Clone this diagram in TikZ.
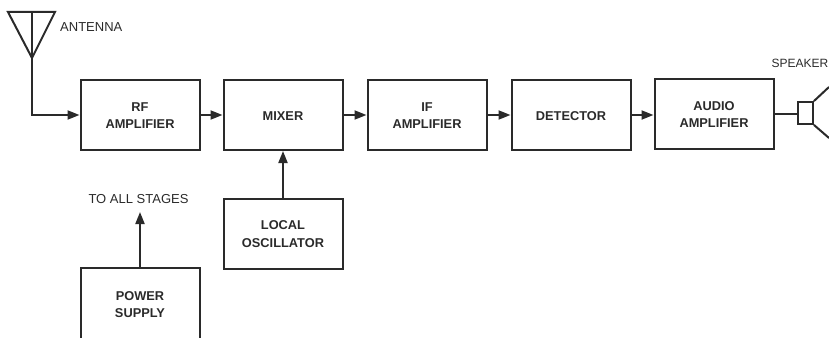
\documentclass[tikz,border=0pt]{standalone}
\usepackage{fontspec}
\setmainfont{Liberation Sans}
\usetikzlibrary{arrows.meta}
\definecolor{ink}{HTML}{2A2A2A}
\newcommand\lowered[1]{\raisebox{-1.5pt}[\height][\depth]{\begin{tabular}{@{}c@{}}#1\end{tabular}}}
\tikzset{
  blockbox/.style={draw=ink,line width=2pt,minimum width=119pt,minimum height=70pt,inner sep=0pt,align=center,text=ink,font=\bfseries\fontsize{12.8}{17.5}\selectfont},
  wire/.style={draw=ink,line width=2pt},
  flow/.style={wire,-{Triangle[length=12pt,width=9pt]}},
  note/.style={text=ink,inner sep=0pt,font=\fontsize{13}{15}\selectfont}
}
\begin{document}
\begin{tikzpicture}[x=1pt,y=-1pt]
\useasboundingbox (0,0) rectangle (829,337);
\clip (0,0) rectangle (829,337);
\node[blockbox] (rf) at (140,115) {\lowered{RF\\AMPLIFIER}};
\node[blockbox] (mixer) at (283,115) {\lowered{MIXER}};
\node[blockbox] (ifamp) at (427,115) {\lowered{IF\\AMPLIFIER}};
\node[blockbox] (det) at (571,115) {\lowered{DETECTOR}};
\node[blockbox] (audio) at (714,114) {\lowered{AUDIO\\AMPLIFIER}};
\node[blockbox] (lo) at (283,233.5) {\lowered{LOCAL\\OSCILLATOR}};
\node[blockbox,minimum height=72pt] (ps) at (140,304) {\lowered{POWER\\SUPPLY}};
% antenna
\coordinate (apex) at (32,58);
\coordinate (tl) at (8,12);
\coordinate (tr) at (55,12);
\coordinate (tm) at (32,12);
\draw[wire,line join=miter] (tl) -- (tr) -- (apex) -- cycle;
\draw[wire] (tm) -- (apex);
\draw[flow] (apex) |- (rf.west);
\node[note,anchor=west] (antlabel) at (60,27) {ANTENNA};
% chain
\draw[flow] (rf.east) -- (mixer.west);
\draw[flow] (mixer.east) -- (ifamp.west);
\draw[flow] (ifamp.east) -- (det.west);
\draw[flow] (det.east) -- (audio.west |- det.east);
\draw[flow] (lo.north) -- (mixer.south);
\node[note] (stages) at (138.5,199) {TO ALL STAGES};
\coordinate (stagetip) at (140,212);
\draw[flow] (ps.north) -- (stagetip);
% speaker
\node[draw=ink,line width=1.8pt,minimum width=15pt,minimum height=22pt,inner sep=0pt] (driver) at (805.5,113) {};
\draw[wire,line width=1.4pt] (audio.east) -- (driver.west |- audio.east);
\coordinate (conetop) at (829,87);
\coordinate (conebot) at (829,138);
\draw[wire] (driver.north east) -- (conetop);
\draw[wire] (driver.south east) -- (conebot);
\node[note,font=\fontsize{12}{14}\selectfont] (spk) at (800,63) {SPEAKER};
\end{tikzpicture}
\end{document}
